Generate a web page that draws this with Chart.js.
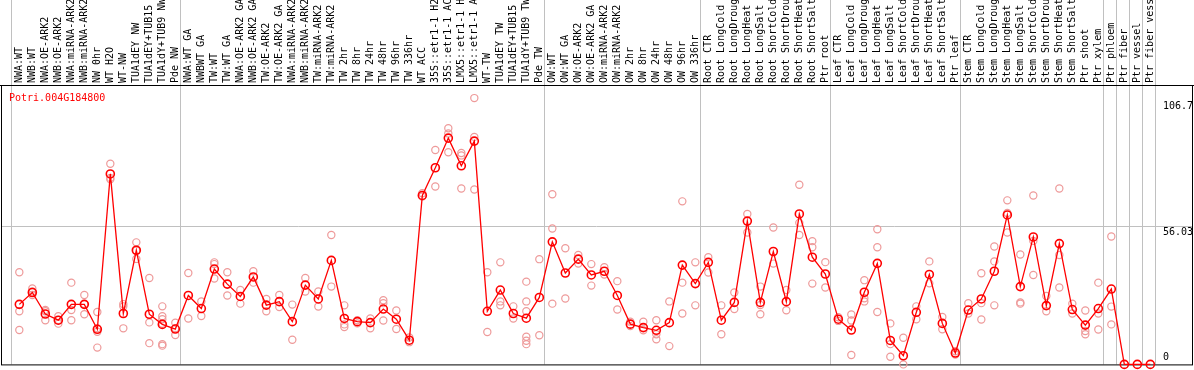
<!DOCTYPE html>
<html>
<head>
<meta charset="utf-8">
<script src="https://cdn.jsdelivr.net/npm/chart.js@4.4.1/dist/chart.umd.min.js"></script>
<style>
  html, body { margin: 0; padding: 0; background: #fff; }
  canvas { display: block; }
</style>
</head>
<body>
<canvas id="exprChart" width="1194" height="370"></canvas>
<script>
const geneName = 'Potri.004G184800';

const categories = [
  'NWA:WT', 'NWB:WT', 'NWA:OE-ARK2', 'NWB:OE-ARK2', 'NWA:miRNA-ARK2', 'NWB:miRNA-ARK2',
  'NW 0hr', 'WT H2O', 'WT-NW', 'TUA1dEY NW', 'TUA1dEY+TUB15 NW', 'TUA1dY+TUB9 NW', 'Pde NW',
  'NWA:WT GA', 'NWBWT GA', 'TW:WT', 'TW:WT GA', 'NWA:OE-ARK2 GA', 'NWB:OE-ARK2 GA',
  'TW:OE-ARK2', 'TW:OE-ARK2 GA', 'NWA:miRNA-ARK2 GA', 'NWB:miRNA-ARK2 GA', 'TW:miRNA-ARK2',
  'TW:miRNA-ARK2 GA', 'TW 2hr', 'TW 8hr', 'TW 24hr', 'TW 48hr', 'TW 96hr', 'TW 336hr',
  'WT ACC', '35S::etr1-1 H2O', '35S::etr1-1 ACC', 'LMX5::etr1-1 H2O', 'LMX5::etr1-1 ACC',
  'WT-TW', 'TUA1dEY TW', 'TUA1dEY+TUB15 TW', 'TUA1dY+TUB9 TW', 'Pde TW',
  'OW:WT', 'OW:WT GA', 'OW:OE-ARK2', 'OW:OE-ARK2 GA', 'OW:miRNA-ARK2', 'OW:miRNA-ARK2 GA',
  'OW 2hr', 'OW 8hr', 'OW 24hr', 'OW 48hr', 'OW 96hr', 'OW 336hr',
  'Root CTR', 'Root LongCold', 'Root LongDrought', 'Root LongHeat', 'Root LongSalt',
  'Root ShortCold', 'Root ShortDrought', 'Root ShortHeat', 'Root ShortSalt', 'Ptr root',
  'Leaf CTR', 'Leaf LongCold', 'Leaf LongDrought', 'Leaf LongHeat', 'Leaf LongSalt',
  'Leaf ShortCold', 'Leaf ShortDrought', 'Leaf ShortHeat', 'Leaf ShortSalt', 'Ptr leaf',
  'Stem CTR', 'Stem LongCold', 'Stem LongDrought', 'Stem LongHeat', 'Stem LongSalt',
  'Stem ShortCold', 'Stem ShortDrought', 'Stem ShortHeat', 'Stem ShortSalt', 'Ptr shoot',
  'Ptr xylem', 'Ptr phloem', 'Ptr fiber', 'Ptr vessel', 'Ptr fiber vessel'
];

// mean expression per sample group
const meanValues = [
  24.3, 29.1, 20.4, 17.9, 24.3, 24.3, 14.2, 77.1, 20.6, 46.2, 20.3, 16.2, 14.3,
  27.9, 22.6, 38.6, 32.5, 27.5, 35.4, 24.0, 25.4, 17.3, 32.1, 26.5, 42.1,
  18.6, 17.3, 16.9, 22.4, 18.3, 9.8,
  68.4, 79.6, 91.6, 80.4, 90.4,
  21.5, 30.1, 20.6, 18.7, 27.1,
  49.6, 37.0, 42.6, 36.2, 37.7, 27.9, 16.3, 14.9, 13.8, 16.9, 40.2, 32.7,
  41.3, 17.9, 25.1, 58.0, 25.1, 45.7, 25.4, 60.9, 43.4, 36.6,
  18.3, 13.9, 29.2, 40.9, 9.7, 3.5, 21.1, 36.4, 16.6, 4.6,
  22.0, 26.5, 37.7, 60.5, 31.5, 51.6, 23.8, 48.9, 22.2, 15.9,
  22.6, 30.5, 0, 0, 0
];

// individual replicates per sample group
const replicateValues = [
  [37.3, 21.5, 13.9], [30.7, 28.1, 29.5], [22.0, 21.5, 17.9], [19.5, 16.5, 18.0],
  [33.1, 22.0, 17.9], [28.1, 24.4, 20.3], [21.2, 14.6, 13.2, 6.8], [81.2, 75.5, 74.9],
  [24.4, 23.5, 14.6], [49.4, 46.1, 42.7], [35.0, 17.0, 8.6],
  [23.5, 19.5, 18.3, 16.5, 8.2, 7.6], [16.9, 14.6, 11.9],
  [37.0, 18.6], [25.5, 19.6], [41.3, 40.6, 34.8], [37.3, 27.9], [30.1, 24.6], [37.7, 33.1],
  [26.5, 21.5], [28.1, 23.2], [24.2, 10.0], [35.0, 29.5], [29.5, 23.4], [52.4, 31.5],
  [23.9, 16.2, 15.1], [17.9, 16.6], [18.6, 14.6], [26.0, 24.8, 17.8], [21.8, 14.3], [10.9, 9.0],
  [69.3, 68.0], [86.8, 72.0], [95.6, 93.5, 85.9], [85.6, 84.6, 71.2], [107.8, 92.1, 70.8],
  [37.3, 13.1], [41.3, 25.5, 23.9], [23.5, 18.6], [33.5, 25.5, 21.5, 11.2, 9.6, 8.2], [42.6, 11.8],
  [68.9, 55.0, 24.6], [47.0, 26.7], [44.3, 40.8], [40.6, 31.9], [39.3, 36.4], [33.7, 22.2],
  [17.3, 15.5], [17.3, 13.8], [17.9, 12.2, 10.2], [25.5, 7.4], [66.0, 33.1, 20.6], [41.3, 23.9],
  [43.4, 37.2], [23.9, 12.2], [29.1, 22.4], [60.9, 53.4], [31.5, 24.0, 20.3],
  [55.4, 40.8], [30.1, 21.9], [72.7, 57.3, 52.4], [49.9, 47.4, 32.7], [41.4, 31.1],
  [19.1, 17.6], [20.2, 17.8, 3.8], [34.1, 26.8, 25.5], [54.7, 47.4, 21.2], [16.6, 8.2, 3.1],
  [10.8, 0], [23.5, 18.3], [41.7, 32.8], [19.2, 14.2], [5.3, 4.0],
  [24.8, 20.6], [36.9, 24.8, 18.2], [47.7, 41.7, 23.9], [66.4, 61.3, 53.4], [44.5, 25.1, 24.6],
  [68.4, 50.0, 36.2], [27.7, 21.5], [71.2, 44.3, 31.1], [24.6, 20.6], [21.8, 13.5, 12.2],
  [33.1, 20.6, 14.1], [51.8, 23.4, 16.2], [], [], []
];

const yTickValues = [0, 56.03, 106.7];
const yTickLabels = ['0', '56.03', '106.7'];
const yGridValues = [56.03];
// grey separators are drawn after these group indexes
const groupBreaks = [12, 40, 52, 62, 72, 83, 84, 85, 86];

const FONT = '10px "DejaVu Sans Mono", monospace';
const X_SHIFT = 0.64; // points sit a bit right of their column start

const meanPoints = meanValues.map((v, i) => ({ x: i, y: v }));
const repPoints = [];
replicateValues.forEach((reps, i) => reps.forEach(v => repPoints.push({ x: i, y: v })));

const decorPlugin = {
  id: 'decor',
  beforeDatasetsDraw(chart) {
    const { ctx, scales: { x, y } } = chart;
    const W = chart.width;
    ctx.save();
    // vertical grey separators
    ctx.strokeStyle = '#c0c0c0';
    ctx.lineWidth = 1;
    const breaks = [-1].concat(groupBreaks, [categories.length - 1]);
    breaks.forEach(b => {
      const px = Math.round(x.getPixelForValue(b + 1 - X_SHIFT)) + 0.5;
      ctx.beginPath();
      ctx.moveTo(px, 0);
      ctx.lineTo(px, chart.chartArea.bottom);
      ctx.stroke();
    });
    // horizontal grid
    yGridValues.forEach(v => {
      const py = Math.round(y.getPixelForValue(v)) + 0.5;
      ctx.beginPath();
      ctx.moveTo(1, py);
      ctx.lineTo(W - 2, py);
      ctx.stroke();
    });
    // frame
    ctx.strokeStyle = '#000';
    ctx.beginPath();
    ctx.moveTo(0, 85.5);
    ctx.lineTo(W, 85.5);
    ctx.stroke();
    ctx.strokeRect(1.5, 85.5, W - 3, chart.chartArea.bottom - 85);
    ctx.restore();
  },
  afterDraw(chart) {
    const { ctx, scales: { x, y } } = chart;
    ctx.save();
    ctx.font = FONT;
    // rotated sample labels
    ctx.fillStyle = '#000';
    ctx.textAlign = 'left';
    ctx.textBaseline = 'middle';
    ctx.beginPath();
    ctx.rect(0, 0, chart.width, 84);
    ctx.clip();
    categories.forEach((lab, i) => {
      ctx.save();
      ctx.translate(x.getPixelForValue(i), 83);
      ctx.rotate(-Math.PI / 2);
      ctx.fillText(lab, 0, 0);
      ctx.restore();
    });
    ctx.restore();

    ctx.save();
    ctx.font = FONT;
    // gene name
    ctx.fillStyle = '#ff0000';
    ctx.textBaseline = 'alphabetic';
    ctx.fillText(geneName, 9, 101);
    // right side value labels
    ctx.fillStyle = '#000';
    ctx.textBaseline = 'top';
    yTickValues.forEach((v, k) => {
      let py = y.getPixelForValue(v) + 1;
      if (py > chart.chartArea.bottom - 12) py = chart.chartArea.bottom - 12;
      ctx.fillText(yTickLabels[k], 1163, py);
    });
    ctx.restore();
  }
};

new Chart(document.getElementById('exprChart'), {
  type: 'line',
  data: {
    datasets: [
      {
        label: 'mean',
        data: meanPoints,
        borderColor: '#ff0000',
        borderWidth: 1.3,
        pointRadius: 4,
        pointBorderWidth: 1.6,
        pointBorderColor: '#ff0000',
        pointBackgroundColor: 'rgba(0,0,0,0)',
        tension: 0,
        clip: false,
        order: 1
      },
      {
        label: 'replicates',
        data: repPoints,
        showLine: false,
        pointRadius: 3.6,
        pointBorderWidth: 1.2,
        pointBorderColor: '#ee9a9a',
        pointBackgroundColor: 'rgba(0,0,0,0)',
        clip: false,
        order: 2
      }
    ]
  },
  options: {
    responsive: false,
    animation: false,
    devicePixelRatio: 1,
    layout: { padding: { left: 11, right: 39, top: 85, bottom: 1 } },
    plugins: { legend: { display: false }, tooltip: { enabled: false } },
    scales: {
      x: { type: 'linear', display: false, min: -X_SHIFT, max: categories.length - X_SHIFT },
      y: { display: false, min: 0, max: 113.1 }
    }
  },
  plugins: [decorPlugin]
});
</script>
</body>
</html>
